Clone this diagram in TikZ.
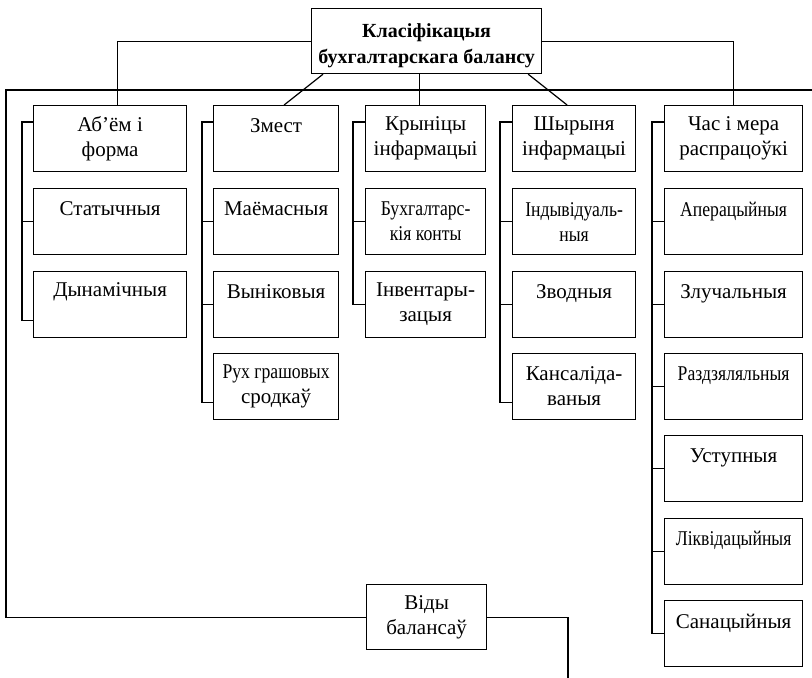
\documentclass[tikz,border=0pt]{standalone}
\usepackage{fontspec}
\setmainfont{Liberation Serif}
\usepackage{graphicx}
\usetikzlibrary{calc}

\newcommand{\thinword}[1]{\scalebox{0.84}[1]{#1}}

\tikzset{
  box/.style={draw, line width=1.2pt, anchor=north west, minimum height=66pt, align=center, inner sep=2pt},
  link/.style={line width=1.2pt},
}

\begin{document}
\begin{tikzpicture}[x=1pt,y=-1pt,font=\fontsize{21}{25}\selectfont]
 \useasboundingbox (0,0) rectangle (812,678);
 % title
 \node[box, minimum width=230pt, minimum height=65pt, font=\fontsize{20}{26}\selectfont\bfseries] (top) at (311,8) {\rule{0pt}{24pt}Класіфікацыя\\бухгалтарскага балансу};
 % headers
 \node[box, minimum width=153pt] (h1) at (33,105) {Аб’ём і\\форма};
 \node[box, minimum width=125pt] (h2) at (213,105) {Змест\\\phantom{З}};
 \node[box, minimum width=120pt] (h3) at (365,105) {Крыніцы\\інфармацыі};
 \node[box, minimum width=123pt] (h4) at (512,105) {Шырыня\\інфармацыі};
 \node[box, minimum width=138pt] (h5) at (664,105) {Час і мера\\распрацоўкі};
 % column 1
 \node[box, minimum width=153pt] (c1a) at (33,188) {Статычныя\\\phantom{С}};
 \node[box, minimum width=153pt] (c1b) at (33,270.5) {Дынамічныя\\\phantom{Д}};
 % column 2
 \node[box, minimum width=125pt] (c2a) at (213,188) {Маёмасныя\\\phantom{М}};
 \node[box, minimum width=125pt] (c2b) at (213,270.5) {Выніковыя\\\phantom{В}};
 \node[box, minimum width=125pt] (c2c) at (213,353) {\thinword{Рух грашовых}\\сродкаў};
 % column 3
 \node[box, minimum width=120pt] (c3a) at (365,188) {\thinword{Бухгалтарс-}\\\thinword{кія конты}};
 \node[box, minimum width=120pt] (c3b) at (365,270.5) {Інвентары-\\зацыя};
 % column 4
 \node[box, minimum width=123pt] (c4a) at (512,188) {\thinword{Індывідуаль-}\\\thinword{ныя}};
 \node[box, minimum width=123pt] (c4b) at (512,270.5) {Зводныя\\\phantom{З}};
 \node[box, minimum width=123pt] (c4c) at (512,353) {Кансаліда-\\ваныя};
 % column 5
 \node[box, minimum width=138pt] (c5a) at (664,188) {\thinword{Аперацыйныя}\\\phantom{А}};
 \node[box, minimum width=138pt] (c5b) at (664,270.5) {Злучальныя\\\phantom{З}};
 \node[box, minimum width=138pt] (c5c) at (664,353) {\thinword{Раздзяляльныя}\\\phantom{Р}};
 \node[box, minimum width=138pt] (c5d) at (664,435) {Уступныя\\\phantom{У}};
 \node[box, minimum width=138pt] (c5e) at (664,517.5) {\thinword{Ліквідацыйныя}\\\phantom{Л}};
 \node[box, minimum width=138pt] (c5f) at (664,600) {Санацыйныя\\\phantom{С}};
 % bottom
 \node[box, minimum width=120pt, minimum height=65pt] (vid) at (366,584) {Віды\\балансаў};
 \coordinate (fl) at (6,90);
 \coordinate (fr) at (812,90);
 \coordinate (fb) at (568,678);

 % title to headers
 \draw[link] (top.west) -| ($(h1.north)+(7,0)$);
 \draw[link] (top.east) -| (h5.north);
 \draw[link] ($(top.south west)+(12,0)$) -- ($(h2.north)+(8,0)$);
 \draw[link] ($(top.south)+(-7,0)$) -- ($(h3.north)+(-6,0)$);
 \draw[link] ($(top.south east)+(-14,0)$) -- ($(h4.north)+(-7,0)$);
 % frame line
 \draw[link] (vid.west) -| (fl) -- (fr);
 \draw[link] (vid.east) -| (fb);
 % brackets
 \draw[link] ($(h1.north west)+(0,17)$) -- ++(-11,0) |- ($(c1b.west)+(0,16)$);
 \draw[link] (c1a.west) -- ++(-11,0);
 \draw[link] ($(h2.north west)+(0,17)$) -- ++(-11,0) |- ($(c2c.west)+(0,16)$);
 \draw[link] (c2a.west) -- ++(-11,0);
 \draw[link] (c2b.west) -- ++(-11,0);
 \draw[link] ($(h3.north west)+(0,17)$) -- ++(-12,0) |- (c3b.west);
 \draw[link] (c3a.west) -- ++(-12,0);
 \draw[link] ($(h4.north west)+(0,17)$) -- ++(-12,0) |- ($(c4c.west)+(0,16)$);
 \draw[link] (c4a.west) -- ++(-12,0);
 \draw[link] (c4b.west) -- ++(-12,0);
 \draw[link] ($(h5.north west)+(0,17)$) -- ++(-12,0) |- (c5f.west);
 \draw[link] (c5a.west) -- ++(-12,0);
 \draw[link] (c5b.west) -- ++(-12,0);
 \draw[link] (c5c.west) -- ++(-12,0);
 \draw[link] (c5d.west) -- ++(-12,0);
 \draw[link] (c5e.west) -- ++(-12,0);
\end{tikzpicture}
\end{document}
